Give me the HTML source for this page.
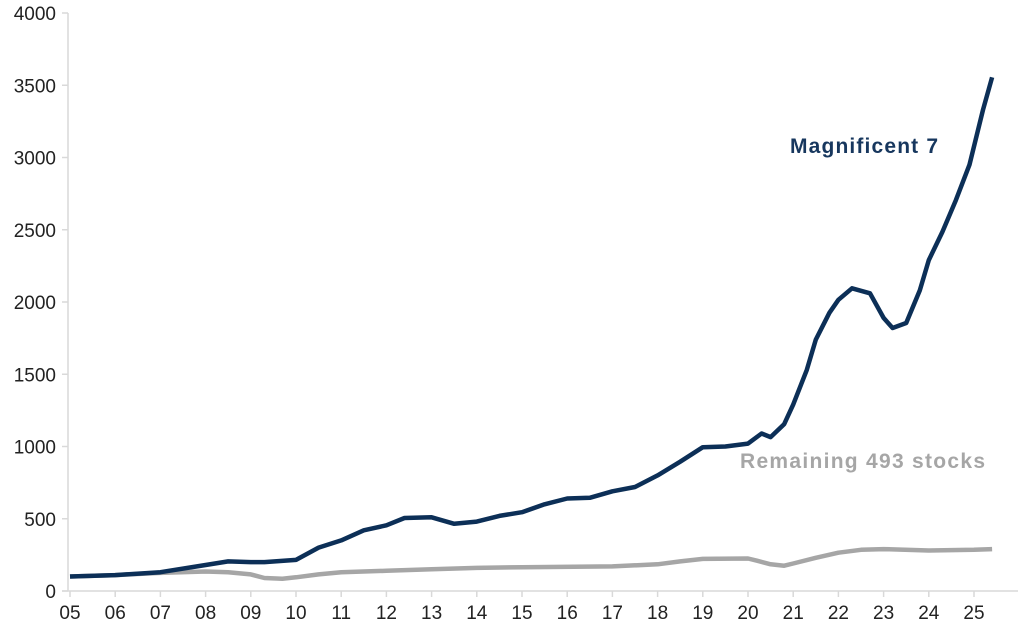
<!DOCTYPE html>
<html><head><meta charset="utf-8"><style>
body{margin:0;background:#fff;}
svg text{font-family:"Liberation Sans",Arial,sans-serif;}
</style></head><body>
<svg id="chart" width="1024" height="632" xmlns="http://www.w3.org/2000/svg"></svg>
<script>
const yTicks=[0,500,1000,1500,2000,2500,3000,3500,4000];
const xLabels=["05","06","07","08","09","10","11","12","13","14","15","16","17","18","19","20","21","22","23","24","25"];
const magYears=[5,6,7,8,8.5,9,9.3,10,10.5,11,11.5,12,12.4,13,13.5,14,14.5,15,15.5,16,16.5,17,17.5,18,18.5,19,19.5,20,20.3,20.5,20.8,21,21.3,21.5,21.8,22,22.3,22.7,23,23.2,23.5,23.8,24,24.3,24.6,24.9,25.2,25.4];
const magValues=[100,110,130,180,205,200,200,215,300,350,420,455,505,510,465,480,520,545,600,640,645,690,720,800,895,995,1000,1020,1090,1065,1155,1290,1530,1740,1925,2015,2095,2060,1890,1820,1855,2080,2290,2485,2705,2950,3330,3555];
const remYears=[5,6,7,8,8.5,9,9.3,9.7,10,10.5,11,12,13,14,15,17,18,18.5,19,20,20.2,20.5,20.8,21,21.5,22,22.5,23,24,25,25.4];
const remValues=[100,110,125,135,130,115,90,85,95,115,130,140,150,160,165,170,185,205,222,225,210,185,175,190,230,265,285,290,280,285,290];
const NS="http://www.w3.org/2000/svg";
const svg=document.getElementById('chart');
const X=yr=>70+(yr-5)*45.2;
const Y=v=>591-v*0.1445;
function el(t,a){const e=document.createElementNS(NS,t);for(const k in a)e.setAttribute(k,a[k]);svg.appendChild(e);return e;}
let ax=el('line',{x1:68,y1:13,x2:68,y2:591,stroke:'#d9d9d9','stroke-width':1.5});


let bx=el('line',{x1:62,y1:591,x2:1018,y2:591,stroke:'#d9d9d9','stroke-width':1.5});


yTicks.forEach(v=>{
 const t=el('text',{x:56,y:Y(v)+7,'text-anchor':'end','font-size':19,fill:'#222'});t.textContent=v;
 
 
 const tk=el('line',{x1:62,y1:Y(v),x2:68,y2:Y(v),stroke:'#d9d9d9','stroke-width':1.5});
 
 
});
xLabels.forEach((l,i)=>{
 const x=X(5+i);
 const tk=el('line',{x1:x,y1:591,x2:x,y2:597,stroke:'#d9d9d9','stroke-width':1.5});
 
 
 const t=el('text',{x:x,y:619,'text-anchor':'middle','font-size':19,fill:'#222'});t.textContent=l;
 
 
});
function pts(xs,vs){return xs.map((x,i)=>X(x).toFixed(1)+','+Y(vs[i]).toFixed(1)).join(' ');}
const rem=el('polyline',{points:pts(remYears,remValues),fill:'none',stroke:'#a6a6a6','stroke-width':4.5,'stroke-linejoin':'round'});


const mag=el('polyline',{points:pts(magYears,magValues),fill:'none',stroke:'#0c2f57','stroke-width':4.5,'stroke-linejoin':'round'});


const l1=el('text',{x:790,y:153,'font-size':21,'font-weight':'bold',fill:'#17375e','textLength':148});l1.textContent='Magnificent 7';


const l2=el('text',{x:740,y:468,'font-size':21,'font-weight':'bold',fill:'#a6a6a6','textLength':245});l2.textContent='Remaining 493 stocks';


</script>
</body></html>
